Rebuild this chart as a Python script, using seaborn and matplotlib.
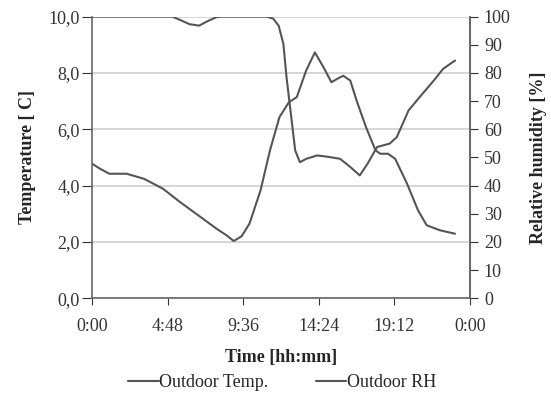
import matplotlib
matplotlib.use("Agg")
import matplotlib.pyplot as plt
import seaborn as sns
import pandas as pd
from matplotlib.ticker import FuncFormatter, MultipleLocator
from matplotlib.lines import Line2D

# hours of day and readings
temp_hours = [0, 0.5, 1.1, 2.2, 3.3, 4.5, 5.6, 6.9, 7.9, 8.5, 9.0, 9.5, 10.0, 10.7,
              11.3, 11.9, 12.5, 13.0, 13.6, 14.15, 14.7, 15.2, 15.6, 15.95, 16.4,
              16.8, 17.4, 18.0, 18.3, 18.8, 19.25, 20.0, 20.7, 21.25, 22.1, 23.05]
temp_values = [4.78, 4.6, 4.42, 4.42, 4.24, 3.89, 3.41, 2.88, 2.47, 2.25, 2.03, 2.2, 2.65, 3.83,
               5.25, 6.43, 6.96, 7.14, 8.09, 8.73, 8.2, 7.67, 7.8, 7.9, 7.73,
               7.02, 6.07, 5.25, 5.13, 5.13, 4.95, 4.07, 3.12, 2.59, 2.41, 2.29]

rh_hours = [0, 5.1, 5.6, 6.2, 6.8, 7.3, 7.9, 8.2, 11.1, 11.5, 11.85, 12.15, 12.35,
            12.6, 12.9, 13.2, 13.6, 14.3, 15.0, 15.75, 16.4, 17.0, 17.5, 18.1,
            18.9, 19.35, 20.1, 20.8, 21.7, 22.3, 23.05]
rh_values = [100, 100, 98.8, 97.3, 96.8, 98.3, 99.8, 100, 100, 99.3, 96.8, 90.3, 78.5,
             66.7, 52.5, 48.3, 49.5, 50.7, 50.2, 49.5, 46.6, 43.6, 47.8, 53.7,
             54.9, 57.2, 66.7, 71.4, 77.3, 81.5, 84.4]

time_ticks = [0, 4.8, 9.6, 14.4, 19.2, 24]

temp_df = pd.DataFrame({"hour": temp_hours, "temp": temp_values})
rh_df = pd.DataFrame({"hour": rh_hours, "rh": rh_values})

sns.set_style("white")
plt.rcParams["font.family"] = ["Liberation Serif", "DejaVu Serif"]
line_col = "#555555"
fs = 13

fig = plt.figure(figsize=(5.51, 3.96), dpi=100)
ax = fig.add_axes([0.167, 0.247, 0.686, 0.711])
sns.lineplot(data=temp_df, x="hour", y="temp", ax=ax, color=line_col, lw=1.5,
             solid_joinstyle="round")
ax2 = ax.twinx()
sns.lineplot(data=rh_df, x="hour", y="rh", ax=ax2, color=line_col, lw=1.5,
             solid_joinstyle="round")

ax.set_xlim(0, 24)
ax.set_ylim(0, 10)
ax2.set_ylim(0, 100)
ax.set_xticks(time_ticks)
ax.xaxis.set_major_formatter(FuncFormatter(
    lambda v, p: "%d:%02d" % (int(round(v * 60)) // 60 % 24, int(round(v * 60)) % 60)))
ax.yaxis.set_major_locator(MultipleLocator(2))
ax.yaxis.set_major_formatter(FuncFormatter(lambda v, p: ("%.1f" % v).replace(".", ",")))
ax2.yaxis.set_major_locator(MultipleLocator(10))

ax.grid(axis="y", color="#d0d0d0", lw=1.2)
ax.set_axisbelow(True)
for a in (ax, ax2):
    a.spines["top"].set_visible(False)
    for s in ("left", "bottom", "right"):
        a.spines[s].set_color("#666666")
        a.spines[s].set_linewidth(1.2)
ax2.spines["left"].set_visible(False)
ax2.spines["bottom"].set_visible(False)

ax.tick_params(axis="x", labelsize=fs, colors="#333333", length=5, width=0.8,
               direction="out", bottom=True, pad=9)
ax.tick_params(axis="y", labelsize=fs, colors="#333333", length=7, width=0.8,
               direction="out", left=True, pad=2)
ax2.tick_params(axis="y", labelsize=fs, colors="#333333", length=6, width=0.8,
                direction="out", right=True, pad=4)

ax.set_xlabel("Time [hh:mm]", fontsize=fs, fontweight="bold", labelpad=10)
ax.set_ylabel("Temperature [ C]", fontsize=fs, fontweight="bold", labelpad=9)
ax2.set_ylabel("Relative humidity [%]", fontsize=fs, fontweight="bold", labelpad=14,
               rotation=90)

handles = [Line2D([], [], color=line_col, lw=1.5), Line2D([], [], color=line_col, lw=1.5)]
fig.legend(handles, ["Outdoor Temp.", "Outdoor RH"], loc="center",
           bbox_to_anchor=(0.512, 0.033), ncol=2, frameon=False, fontsize=fs,
           handlelength=1.7, handletextpad=0.05, columnspacing=2.6)

fig.savefig("out.png", dpi=100, facecolor="white")
